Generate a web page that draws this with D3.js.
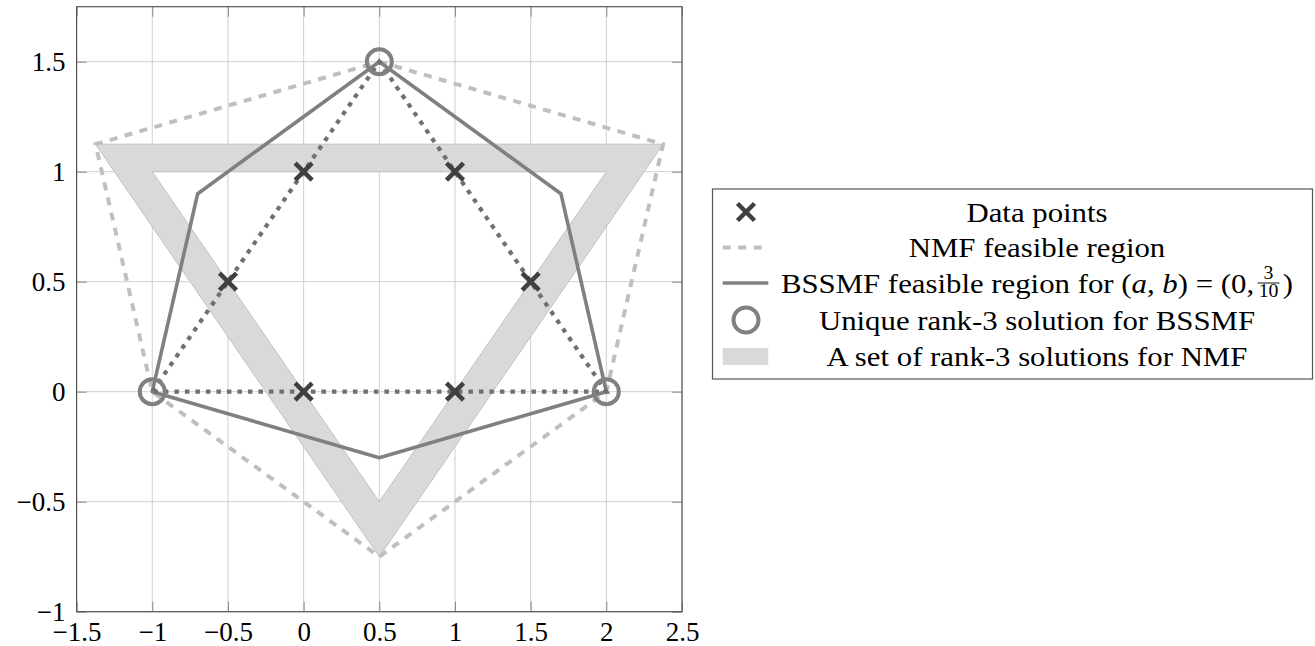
<!DOCTYPE html>
<html><head><meta charset="utf-8">
<script src="https://cdn.jsdelivr.net/npm/d3@7/dist/d3.min.js"></script>
<style>body{margin:0;background:#fff}svg{display:block}
svg text{font-family:"Liberation Serif","DejaVu Serif","Times New Roman",Times,serif !important}</style>
</head><body>
<svg id="c" width="1315" height="646"></svg>
<script>
const xTicks = [-1.5, -1, -0.5, 0, 0.5, 1, 1.5, 2, 2.5];
const yTicks = [-1, -0.5, 0, 0.5, 1, 1.5];
const dataPoints = [[0, 1], [1, 1], [-0.5, 0.5], [1.5, 0.5], [0, 0], [1, 0]];
const dataHull = [[-1, 0], [0.5, 1.5], [2, 0]];
const nmfRegion = [[0.5, 1.5], [2.375, 1.125], [2, 0], [0.5, -0.75], [-1, 0], [-1.375, 1.125]];
const bssmfRegion = [[0.5, 1.5], [1.7, 0.9], [2, 0], [0.5, -0.3], [-1, 0], [-0.7, 0.9]];
const bssmfSolution = [[-1, 0], [0.5, 1.5], [2, 0]];
const bandOuter = [[-1.375, 1.125], [2.375, 1.125], [0.5, -0.75]];
const bandInner = [[-1, 1], [2, 1], [0.5, -0.5]];
const legendLabels = ["Data points", "NMF feasible region", "BSSMF feasible region for", "Unique rank-3 solution for BSSMF", "A set of rank-3 solutions for NMF"];

const svg = d3.select("#c");
const L = 76.6, R = 682, T = 6.7, B = 611.7;
const x = d3.scaleLinear().domain([-1.5, 2.5]).range([L, R]);
const y = d3.scaleLinear().domain([-1, 1.75]).range([B, T]);
const fmt = d => d < 0 ? "\u2212" + Math.abs(d) : String(d);

// grid
const g = svg.append("g");
g.selectAll(".gx").data(xTicks).join("line").attr("x1", d => x(d)).attr("x2", d => x(d)).attr("y1", T).attr("y2", B)
  .attr("stroke", "#cfcfcf").attr("stroke-width", 1);
g.selectAll(".gy").data(yTicks).join("line").attr("y1", d => y(d)).attr("y2", d => y(d)).attr("x1", L).attr("x2", R)
  .attr("stroke", "#cfcfcf").attr("stroke-width", 1);

const line = d3.line().x(d => x(d[0])).y(d => y(d[1]));
const closed = pts => line(pts) + "Z";

// band
svg.append("path").attr("d", closed(bandOuter) + closed(bandInner)).attr("fill-rule", "evenodd")
  .attr("fill", "#d9d9d9").attr("stroke", "#c2c2c2").attr("stroke-width", 1);

// NMF region
svg.append("path").attr("d", closed(nmfRegion)).attr("fill", "none").attr("stroke", "#bfbfbf")
  .attr("stroke-width", 4).attr("stroke-dasharray", "8,7.5");
// BSSMF region
svg.append("path").attr("d", closed(bssmfRegion)).attr("fill", "none").attr("stroke", "#808080")
  .attr("stroke-width", 3.6).attr("stroke-linejoin", "round");
// dotted hull
svg.append("path").attr("d", closed(dataHull)).attr("fill", "none").attr("stroke", "#707070")
  .attr("stroke-width", 4.2).attr("stroke-dasharray", "4.5,6");
// circles
svg.selectAll(".sol").data(bssmfSolution).join("circle").attr("cx", d => x(d[0])).attr("cy", d => y(d[1]))
  .attr("r", 12.5).attr("fill", "none").attr("stroke", "#808080").attr("stroke-width", 4);
// crosses
const cross = (sel, s) => sel.append("path").attr("d", `M${-s},${-s}L${s},${s}M${-s},${s}L${s},${-s}`)
  .attr("stroke", "#404040").attr("stroke-width", 4.5).attr("fill", "none");
svg.selectAll(".pt").data(dataPoints).join("g").attr("transform", d => `translate(${x(d[0])},${y(d[1])})`)
  .each(function () { cross(d3.select(this), 8.5); });

// axes with inner ticks
const ax = (gen, tr) => {
  const a = svg.append("g").attr("transform", tr).call(gen);
  a.attr("font-size", 27);
  a.select(".domain").remove();
  a.selectAll("line").attr("stroke", "#888");
  a.selectAll("text").attr("fill", "#000");
  return a;
};
ax(d3.axisBottom(x).tickValues(xTicks).tickSize(-10).tickPadding(12).tickFormat(fmt), `translate(0,${B})`)
  .selectAll("text").attr("dy", null).attr("y", 29.5);
ax(d3.axisTop(x).tickValues(xTicks).tickSize(-10).tickFormat(() => ""), `translate(0,${T})`);
ax(d3.axisLeft(y).tickValues(yTicks).tickSize(-10).tickPadding(11).tickFormat(fmt), `translate(${L},0)`)
  .selectAll("text").attr("dy", "0.34em");
ax(d3.axisRight(y).tickValues(yTicks).tickSize(-10).tickFormat(() => ""), `translate(${R},0)`);

svg.append("rect").attr("x", L).attr("y", T).attr("width", R - L).attr("height", B - T)
  .attr("fill", "none").attr("stroke", "#555").attr("stroke-width", 1.2);

// legend
const lg = svg.append("g");
lg.append("rect").attr("x", 712.5).attr("y", 189).attr("width", 600).attr("height", 190)
  .attr("fill", "#fff").attr("stroke", "#555").attr("stroke-width", 1.2);
const rows = [212, 247.5, 283, 320, 356.5];
const mx = 746, tc = 1037;
cross(lg.append("g").attr("transform", `translate(${mx},${rows[0]})`), 8.5);
lg.append("line").attr("x1", 722.7).attr("x2", 763).attr("y1", rows[1]).attr("y2", rows[1])
  .attr("stroke", "#bfbfbf").attr("stroke-width", 4).attr("stroke-dasharray", "8,7.5");
lg.append("line").attr("x1", 722.7).attr("x2", 768.3).attr("y1", rows[2]).attr("y2", rows[2])
  .attr("stroke", "#808080").attr("stroke-width", 3.6);
lg.append("circle").attr("cx", mx).attr("cy", rows[3]).attr("r", 12.5).attr("fill", "none")
  .attr("stroke", "#808080").attr("stroke-width", 4);
lg.append("rect").attr("x", 722.7).attr("y", rows[4] - 8.5).attr("width", 45.6).attr("height", 17).attr("fill", "#d9d9d9");

const fs = 28, sx = 1.1;
[0, 1, 3, 4].forEach(i => {
  lg.append("text").attr("transform", `translate(${tc},${rows[i]}) scale(${sx},1)`).attr("text-anchor", "middle")
    .attr("dy", "0.34em").attr("font-size", fs).text(legendLabels[i]);
});
// BSSMF row with math
const rg = lg.append("g");
const t1 = rg.append("text").attr("dy", "0.34em").attr("font-size", fs);
t1.append("tspan").text(legendLabels[2] + " (");
t1.append("tspan").attr("font-style", "italic").text("a");
t1.append("tspan").text(", ");
t1.append("tspan").attr("font-style", "italic").text("b");
t1.append("tspan").text(") = (0, ");
const w1 = t1.node().getComputedTextLength();
const fx = w1 + 3;
rg.append("text").attr("x", fx + 10).attr("y", -4).attr("text-anchor", "middle").attr("font-size", 18).text("3");
rg.append("text").attr("x", fx + 10).attr("y", 14).attr("text-anchor", "middle").attr("font-size", 18).text("10");
rg.append("line").attr("x1", fx).attr("x2", fx + 20).attr("y1", 0).attr("y2", 0).attr("stroke", "#000").attr("stroke-width", 0.9);
const t2 = rg.append("text").attr("x", fx + 23).attr("dy", "0.34em").attr("font-size", fs).text(")");
const wTot = fx + 23 + t2.node().getComputedTextLength();
rg.attr("transform", `translate(${tc - wTot * sx / 2},${rows[2]}) scale(${sx},1)`);
</script>
</body></html>
